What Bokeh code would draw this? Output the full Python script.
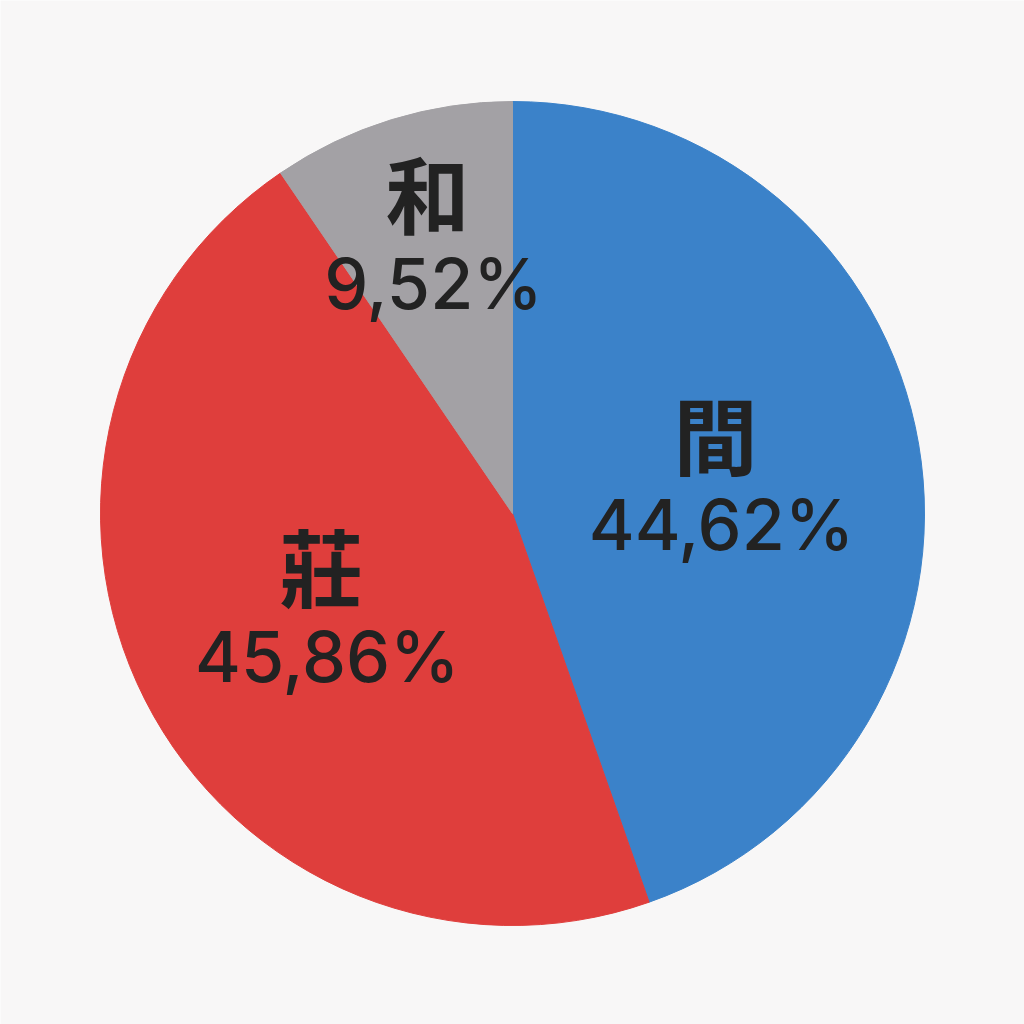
import math
from bokeh.plotting import figure
from bokeh.models import Range1d, ColumnDataSource
from bokeh.core.properties import value
from bokeh.embed import file_html
from bokeh.resources import INLINE

# ---- data ----
categories = ["間", "莊", "和"]
shares = [44.62, 45.86, 9.52]
colors = ["#3b82c9", "#df3e3c", "#a3a1a5"]

# ---- layout / style ----
W = H = 1024
CX, CY, R = 512, 511, 412
label_r_frac = [0.50, 0.52, 0.70]
BG = "#f8f7f7"
TXT = "#222222"

total = sum(shares)
starts, ends, lx, ly = [], [], [], []
cum = 0.0
for s, f in zip(shares, label_r_frac):
    a0 = cum / total * 2 * math.pi
    cum += s
    a1 = cum / total * 2 * math.pi
    # clockwise from 12 o'clock -> bokeh angles (ccw from +x)
    starts.append(math.pi / 2 - a1)
    ends.append(math.pi / 2 - a0)
    mid = (a0 + a1) / 2
    lx.append(CX + f * R * math.sin(mid))
    ly.append(CY + f * R * math.cos(mid))

pct_text = [("%.2f" % s).replace(".", ",") + "%" for s in shares]

src = ColumnDataSource(dict(start=starts, end=ends, color=colors,
                            x=[CX] * 3, y=[CY] * 3,
                            lx=lx, ly=ly, cat=categories, pct=pct_text))

p = figure(width=W, height=H, output_backend="svg", toolbar_location=None,
           x_range=Range1d(0, W), y_range=Range1d(0, H), min_border=0)
p.axis.visible = False
p.grid.visible = False
p.outline_line_color = None
p.background_fill_color = BG
p.border_fill_color = BG

p.wedge(x="x", y="y", radius=R, radius_units="data", start_angle="start", end_angle="end",
        fill_color="color", line_color="color", line_width=1, source=src)

p.text(x="lx", y="ly", text="cat", x_offset=0, y_offset=-46, text_align="center",
       text_baseline="middle", text_font=value("Noto Sans CJK TC"), text_font_style="bold",
       text_font_size="84px", text_color=TXT, source=src)
p.text(x="lx", y="ly", text="pct", x_offset=6, y_offset=46, text_align="center",
       text_baseline="middle", text_font=value("'Inter Medium', Inter"),
       text_font_size="70px", text_color=TXT, source=src)

html = file_html(p, INLINE)
html = html.replace("<body>", '<body style="margin:0;background:%s">' % BG, 1)
open("out.html", "w").write(html)
